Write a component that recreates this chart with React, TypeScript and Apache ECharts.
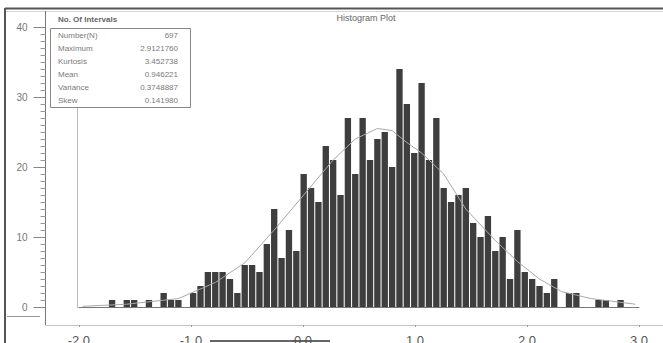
import React, { useEffect, useRef } from "react";
import * as echarts from "echarts";

// Histogram counts, one entry per interval (76 intervals)
const counts: number[] = [
  0, 0, 0, 0, 1, 0, 1, 1, 0, 1, 0, 2, 1, 1, 0, 2, 3, 5, 5, 5,
  4, 2, 6, 6, 5, 9, 14, 7, 11, 8, 19, 17, 15, 23, 21, 16, 27, 19, 27, 21,
  24, 25, 20, 34, 29, 22, 32, 21, 27, 17, 15, 16, 17, 12, 10, 13, 8, 10, 4, 11,
  5, 4, 3, 2, 4, 0, 2, 2, 0, 0, 1, 1, 0, 1, 0, 0,
];

// Fitted curve, read at selected intervals
const fitBins: number[] = [0, 6, 13, 18, 22, 26, 30, 34, 37, 40, 42, 44, 46, 49, 52, 56, 59, 62, 65, 69, 75];
const fitValues: number[] = [0.1, 0.4, 1.2, 3.5, 6.3, 11, 16, 21, 24, 25.5, 25.2, 23.5, 22, 19, 14, 9.5, 6.5, 4, 2.2, 1.2, 0.4];

// Axis ticks
const yTicks: number[] = [0, 10, 20, 30, 40];
const xTickValues: number[] = [-2, -1, 0, 1, 2, 3];

// Summary statistics box
const statNames: string[] = ["Number(N)", "Maximum", "Kurtosis", "Mean", "Variance", "Skew"];
const statValues: string[] = ["697", "2.9121760", "3.452738", "0.946221", "0.3748887", "0.141980"];

const FONT = "Liberation Sans, Arial, sans-serif";

export default function App() {
  const ref = useRef<HTMLDivElement>(null);

  useEffect(() => {
    if (!ref.current) return;
    const chart = echarts.init(ref.current, null, { renderer: "svg" });

    const cats = counts.map((_, i) => String(i));
    const fitData: (number | null)[] = counts.map(() => null);
    fitBins.forEach((b, k) => {
      fitData[b] = fitValues[k];
    });

    const gridLeft = 78.9;
    const axisX = 45.5;

    const statTexts: any[] = [];
    statNames.forEach((name, k) => {
      const y = 35 + k * 13;
      statTexts.push({
        type: "text",
        x: 58,
        y,
        style: { text: name, fill: "#7a7a7a", font: `8px ${FONT}`, textVerticalAlign: "middle" },
      });
      statTexts.push({
        type: "text",
        x: 178,
        y,
        style: {
          text: statValues[k],
          fill: "#7a7a7a",
          font: `8px ${FONT}`,
          textAlign: "right",
          textVerticalAlign: "middle",
        },
      });
    });

    chart.setOption({
      animation: false,
      backgroundColor: "#ffffff",
      grid: {
        left: gridLeft,
        right: 24,
        top: 27,
        bottom: 36,
        containLabel: false,
        outerBoundsMode: "none",
      },
      xAxis: [
        {
          type: "category",
          data: cats,
          boundaryGap: true,
          axisLine: { show: true, onZero: false, lineStyle: { color: "#777", width: 1 } },
          axisTick: { show: false },
          axisLabel: { show: false },
          splitLine: { show: false },
        },
        {
          type: "value",
          min: -2,
          max: 3,
          interval: 1,
          position: "bottom",
          offset: 18,
          axisLine: { show: false, onZero: false },
          axisTick: { show: true, length: 2, lineStyle: { color: "#999" } },
          axisLabel: {
            show: true,
            margin: 9,
            color: "#555",
            fontSize: 13,
            fontFamily: FONT,
            formatter: (v: number) => (xTickValues.includes(v) ? v.toFixed(1) : ""),
          },
          splitLine: { show: false },
        },
      ],
      yAxis: {
        type: "value",
        min: yTicks[0],
        max: yTicks[yTicks.length - 1],
        interval: 10,
        position: "left",
        offset: gridLeft - axisX,
        axisLine: { show: false, onZero: false },
        axisTick: { show: true, length: 12, lineStyle: { color: "#888" } },
        minorTick: { show: true, splitNumber: 10, length: 5, lineStyle: { color: "#999" } },
        axisLabel: {
          show: true,
          margin: 18,
          color: "#777",
          fontSize: 10,
          fontFamily: FONT,
        },
        splitLine: { show: false },
      },
      series: [
        {
          type: "bar",
          data: counts,
          xAxisIndex: 0,
          barCategoryGap: "14%",
          itemStyle: { color: "#3e3e3e" },
          silent: true,
        },
        {
          type: "line",
          data: fitData,
          xAxisIndex: 0,
          connectNulls: true,
          symbol: "none",
          smooth: false,
          lineStyle: { color: "#a8a8a8", width: 1 },
          silent: true,
          z: 3,
        },
      ],
      graphic: [
        // outer frame
        { type: "line", shape: { x1: 5, y1: 8.5, x2: 663, y2: 8.5 }, style: { stroke: "#555", lineWidth: 2 } },
        { type: "line", shape: { x1: 5, y1: 11.5, x2: 663, y2: 11.5 }, style: { stroke: "#d4d4d4", lineWidth: 1 } },
        { type: "line", shape: { x1: 5, y1: 8, x2: 5, y2: 343 }, style: { stroke: "#555", lineWidth: 2 } },
        // y axis line
        { type: "line", shape: { x1: axisX, y1: 11, x2: axisX, y2: 325 }, style: { stroke: "#777", lineWidth: 1 } },
        // x axis line
        { type: "line", shape: { x1: axisX, y1: 325.5, x2: 663, y2: 325.5 }, style: { stroke: "#c4c4c4", lineWidth: 1 } },
        { type: "line", shape: { x1: 7, y1: 316.5, x2: 40, y2: 316.5 }, style: { stroke: "#999", lineWidth: 1 } },
        // plot frame left edge
        { type: "line", shape: { x1: 77.5, y1: 108, x2: 77.5, y2: 308 }, style: { stroke: "#bbb", lineWidth: 1 } },
        { type: "line", shape: { x1: 210, y1: 341, x2: 330, y2: 341 }, style: { stroke: "#666", lineWidth: 2 } },
        // title
        {
          type: "text",
          x: 366,
          y: 18,
          style: { text: "Histogram Plot", fill: "#666", font: `9px ${FONT}`, textAlign: "center", textVerticalAlign: "middle" },
        },
        {
          type: "text",
          x: 58,
          y: 19,
          style: { text: "No. Of Intervals", fill: "#666", font: `bold 8px ${FONT}`, textVerticalAlign: "middle" },
        },
        // statistics box
        {
          type: "rect",
          shape: { x: 50.5, y: 28.5, width: 140, height: 79 },
          style: { fill: "#fff", stroke: "#888", lineWidth: 1 },
          z: 10,
        },
        ...statTexts.map((t) => ({ ...t, z: 11 })),
      ],
    });

    return () => chart.dispose();
  }, []);

  return (
    <div
      ref={ref}
      style={{ position: "fixed", left: 0, top: 0, width: 663, height: 343, background: "#fff" }}
    />
  );
}
